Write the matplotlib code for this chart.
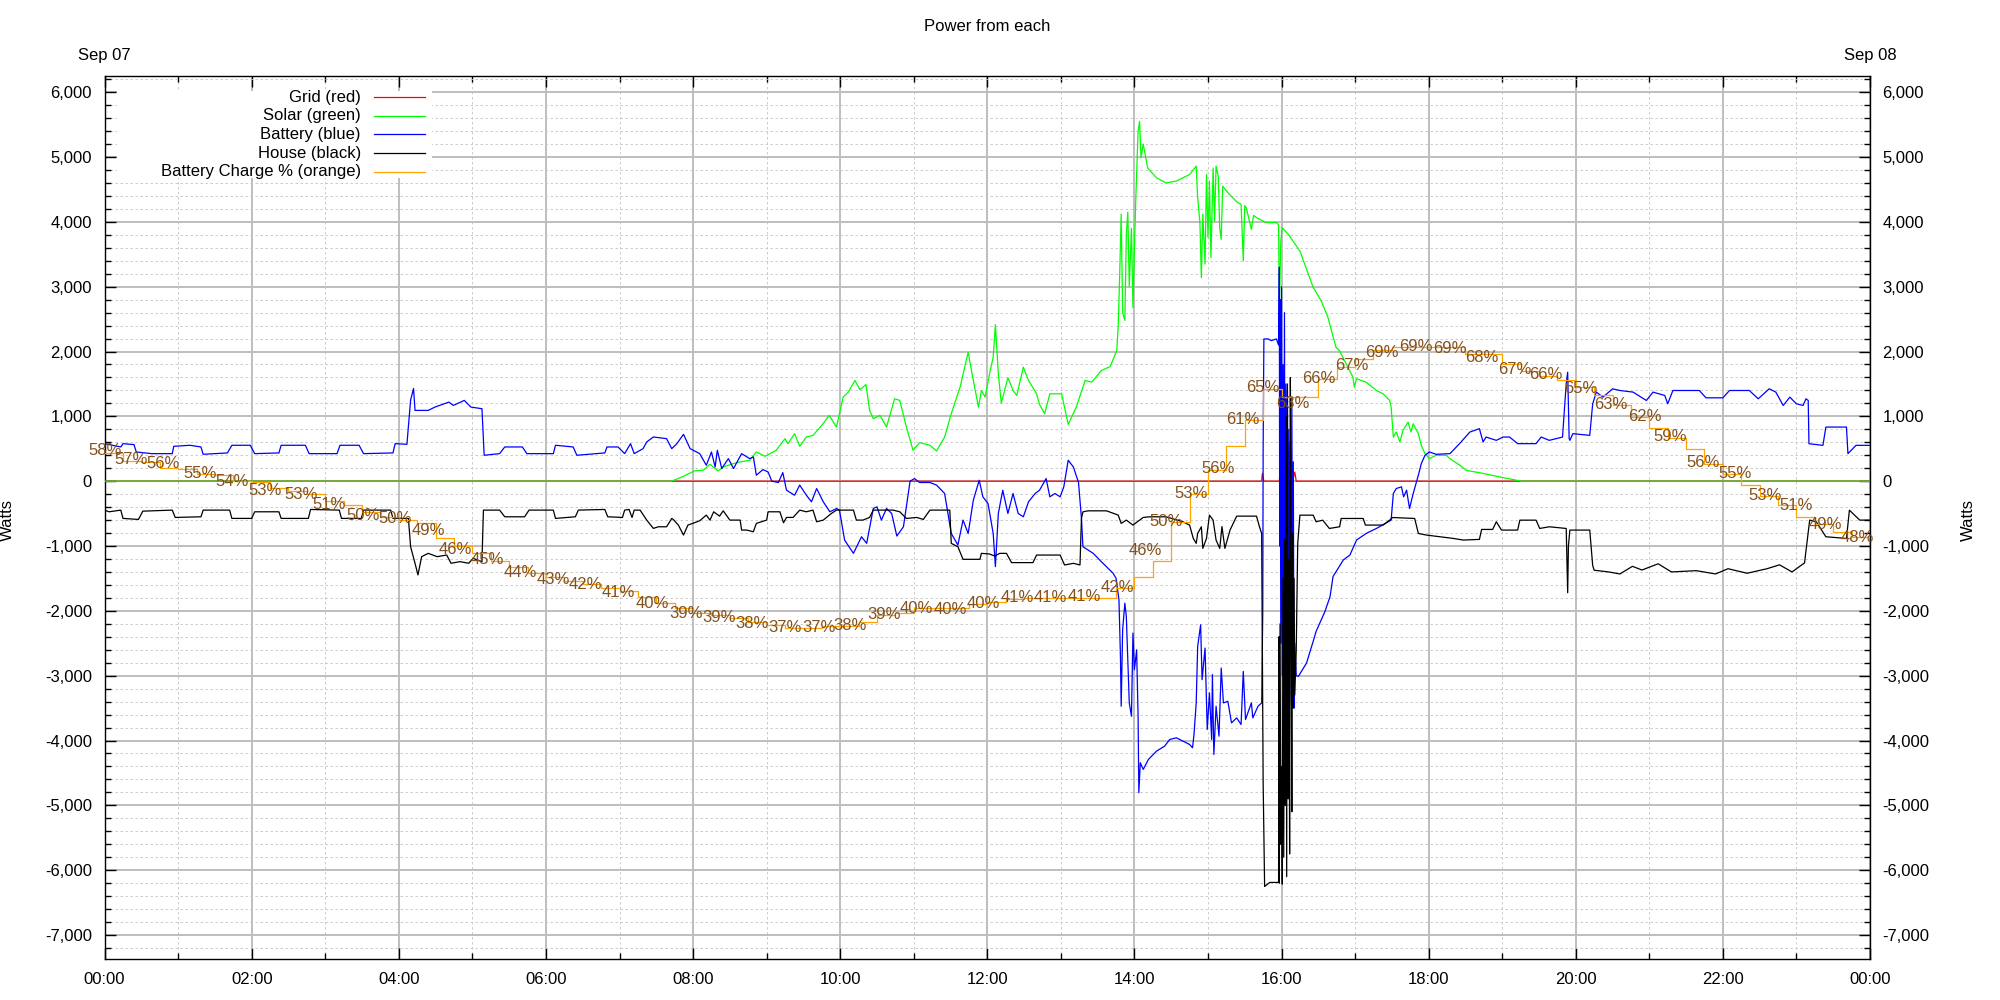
import matplotlib
matplotlib.use("agg")
import matplotlib.pyplot as plt
from matplotlib.patches import Rectangle
from matplotlib.ticker import MultipleLocator, FuncFormatter
import numpy as np

plt.rcParams['font.family'] = ['Liberation Sans', 'DejaVu Sans']
plt.rcParams['font.size'] = 12

# (hour of day, watts)
grid = [(0.0, 0), (15.73, 0), (15.74, 120), (15.76, 0), (15.97, 0), (15.98, 150), (16.0, 0),
        (16.03, 130), (16.05, 0), (16.08, 150), (16.1, 0), (16.13, 120), (16.15, 0),
        (16.18, 140), (16.2, 0), (24.0, 0)]

solar = [(0.0, 0), (7.37, 0), (7.71, 0), (7.87, 77), (8.02, 159), (8.14, 170), (8.23, 261),
         (8.34, 159), (8.41, 220), (8.55, 272), (8.64, 297), (8.77, 323), (8.86, 451),
         (8.98, 384), (9.13, 477), (9.25, 656), (9.29, 579), (9.38, 733), (9.45, 538),
         (9.54, 682), (9.63, 707), (9.75, 861), (9.85, 1015), (9.95, 836), (10.04, 1297),
         (10.11, 1374), (10.2, 1554), (10.27, 1410), (10.35, 1492), (10.4, 1092),
         (10.45, 964), (10.54, 1015), (10.63, 836), (10.74, 1272), (10.81, 1246),
         (10.9, 836), (10.99, 477), (11.08, 595), (11.22, 554), (11.31, 466), (11.42, 682),
         (11.51, 1041), (11.63, 1451), (11.74, 1990), (11.81, 1554), (11.88, 1143),
         (11.92, 1400), (11.97, 1297), (12.03, 1656), (12.08, 1912), (12.11, 2415),
         (12.15, 1656), (12.19, 1205), (12.28, 1595), (12.35, 1400), (12.4, 1323),
         (12.49, 1759), (12.56, 1554), (12.67, 1348), (12.71, 1184), (12.78, 1041),
         (12.85, 1348), (13.01, 1348), (13.1, 877), (13.21, 1143), (13.33, 1554),
         (13.42, 1528), (13.55, 1707), (13.67, 1769), (13.76, 2014), (13.78, 2400),
         (13.8, 3200), (13.82, 4120), (13.84, 2600), (13.87, 2480), (13.89, 3800),
         (13.91, 4150), (13.93, 3000), (13.96, 3900), (13.98, 2680), (14.0, 3600),
         (14.02, 4400), (14.05, 5400), (14.07, 5550), (14.09, 4990), (14.12, 5200),
         (14.18, 4830), (14.3, 4680), (14.43, 4600), (14.57, 4630), (14.75, 4730),
         (14.84, 4860), (14.86, 4370), (14.89, 4000), (14.91, 3140), (14.93, 4120),
         (14.96, 3350), (14.98, 4730), (15.0, 3760), (15.02, 4630), (15.04, 3450),
         (15.07, 4830), (15.09, 4010), (15.11, 4860), (15.14, 4700), (15.16, 3900),
         (15.18, 3730), (15.2, 4550), (15.27, 4450), (15.34, 4370), (15.4, 4300),
         (15.45, 4270), (15.48, 3400), (15.5, 4250), (15.52, 4220), (15.59, 3885),
         (15.62, 4100), (15.66, 4065), (15.79, 3990), (15.93, 3990), (15.96, 3950),
         (15.97, 2630), (15.99, 3700), (16.01, 3910), (16.09, 3810), (16.25, 3550),
         (16.43, 2990), (16.54, 2780), (16.63, 2530), (16.74, 2065), (16.79, 2010),
         (16.97, 1605), (16.99, 1450), (17.02, 1580), (17.15, 1527), (17.29, 1400),
         (17.38, 1348), (17.47, 1245), (17.49, 1143), (17.52, 681), (17.56, 758),
         (17.61, 604), (17.65, 784), (17.72, 912), (17.76, 760), (17.79, 886),
         (17.86, 733), (17.9, 553), (17.95, 425), (18.01, 348), (18.1, 399), (18.24, 399),
         (18.29, 348), (18.42, 250), (18.51, 168), (18.74, 120), (18.97, 65), (19.26, 0),
         (24.0, 0)]

battery = [(0.0, 579), (0.22, 528), (0.25, 579), (0.4, 564), (0.43, 451), (0.64, 425),
           (0.92, 425), (0.94, 538), (1.16, 554), (1.31, 528), (1.34, 415), (1.67, 436),
           (1.73, 554), (1.98, 554), (2.04, 425), (2.37, 436), (2.4, 554), (2.73, 554),
           (2.78, 425), (3.16, 425), (3.2, 554), (3.46, 554), (3.52, 425), (3.92, 436),
           (3.95, 579), (4.11, 569), (4.16, 1250), (4.2, 1430), (4.22, 1092), (4.4, 1092),
           (4.49, 1143), (4.68, 1220), (4.74, 1169), (4.89, 1246), (4.98, 1143),
           (5.13, 1118), (5.16, 400), (5.37, 425), (5.44, 528), (5.68, 528), (5.74, 425),
           (6.1, 425), (6.13, 554), (6.37, 528), (6.42, 400), (6.8, 436), (6.83, 528),
           (6.98, 528), (7.07, 425), (7.15, 579), (7.2, 425), (7.32, 502), (7.37, 605),
           (7.46, 682), (7.64, 656), (7.71, 502), (7.78, 579), (7.87, 723), (7.96, 502),
           (8.09, 425), (8.18, 246), (8.25, 451), (8.3, 220), (8.33, 477), (8.39, 195),
           (8.48, 348), (8.55, 195), (8.66, 425), (8.77, 348), (8.82, 374), (8.86, 92),
           (8.95, 179), (9.02, 143), (9.07, 0), (9.16, -20), (9.22, 133), (9.27, -139),
           (9.38, -216), (9.45, -60), (9.54, -216), (9.61, -318), (9.68, -113),
           (9.77, -318), (9.86, -472), (9.95, -421), (9.99, -446), (10.06, -908),
           (10.18, -1113), (10.29, -857), (10.36, -959), (10.45, -421), (10.5, -395),
           (10.56, -600), (10.63, -421), (10.7, -498), (10.77, -846), (10.86, -703),
           (10.95, 0), (11.01, 41), (11.08, -20), (11.22, -20), (11.31, -60),
           (11.42, -190), (11.51, -806), (11.6, -985), (11.67, -600), (11.74, -806),
           (11.81, -293), (11.89, 15), (11.94, -241), (12.01, -344), (12.08, -806),
           (12.11, -1318), (12.15, -498), (12.21, -139), (12.28, -498), (12.35, -190),
           (12.42, -498), (12.49, -549), (12.56, -318), (12.65, -190), (12.71, -139),
           (12.8, 41), (12.85, -241), (12.92, -190), (12.99, -241), (13.04, -87),
           (13.1, 323), (13.17, 220), (13.24, -20), (13.28, -575), (13.3, -1010),
           (13.44, -1113), (13.55, -1241), (13.71, -1420), (13.75, -1497), (13.79, -1830),
           (13.81, -2702), (13.82, -3471), (13.84, -2292), (13.87, -1882), (13.89, -2087),
           (13.93, -3420), (13.96, -3625), (13.98, -2343), (14.0, -2907), (14.03, -2600),
           (14.05, -3625), (14.06, -4805), (14.08, -4343), (14.12, -4446), (14.19, -4292),
           (14.3, -4164), (14.41, -4087), (14.48, -3984), (14.57, -3958), (14.66, -4010),
           (14.75, -4061), (14.79, -4112), (14.81, -3907), (14.84, -3420), (14.86, -2548),
           (14.9, -2215), (14.92, -3061), (14.96, -2574), (14.99, -3830), (15.02, -3266),
           (15.05, -3984), (15.06, -2984), (15.08, -4215), (15.11, -3471), (15.15, -3933),
           (15.18, -2882), (15.21, -3420), (15.27, -3394), (15.32, -3728), (15.39, -3651),
           (15.45, -3753), (15.48, -2933), (15.51, -3676), (15.59, -3420), (15.61, -3651),
           (15.68, -3471), (15.73, -3420), (15.745, -2000), (15.75, 500), (15.76, 2194),
           (15.82, 2194), (15.86, 2168), (15.93, 2194), (15.96, 2100), (15.97, 3300),
           (15.975, -1000), (15.98, 2800), (15.99, -2500), (16.0, 3000), (16.01, -3000),
           (16.02, 1800), (16.03, -2000), (16.04, 2600), (16.05, -3200), (16.06, 1500),
           (16.07, -2800), (16.08, 1400), (16.09, -3300), (16.1, 800), (16.11, -3400),
           (16.12, 600), (16.13, -2700), (16.14, 1300), (16.15, -3100), (16.16, 300),
           (16.17, -3500), (16.18, -2500), (16.2, -3000), (16.23, -3010), (16.34, -2804),
           (16.43, -2471), (16.47, -2317), (16.59, -2010), (16.66, -1779), (16.7, -1471),
           (16.77, -1343), (16.84, -1215), (16.93, -1138), (17.02, -908), (17.15, -806),
           (17.29, -729), (17.45, -626), (17.49, -600), (17.52, -190), (17.56, -113),
           (17.63, -87), (17.66, -241), (17.7, -139), (17.74, -421), (17.79, -190),
           (17.86, 92), (17.9, 271), (17.95, 399), (18.01, 451), (18.1, 415), (18.29, 425),
           (18.42, 579), (18.56, 758), (18.69, 810), (18.74, 605), (18.78, 681),
           (18.92, 630), (19.01, 681), (19.1, 681), (19.21, 579), (19.46, 579),
           (19.53, 681), (19.64, 630), (19.82, 681), (19.87, 1502), (19.89, 1681),
           (19.91, 656), (19.92, 630), (19.96, 733), (20.19, 707), (20.23, 1194),
           (20.28, 1374), (20.37, 1297), (20.5, 1425), (20.6, 1399), (20.78, 1374),
           (20.96, 1245), (21.05, 1374), (21.21, 1322), (21.25, 1194), (21.32, 1399),
           (21.68, 1399), (21.77, 1286), (22.0, 1286), (22.09, 1399), (22.36, 1399),
           (22.48, 1271), (22.63, 1425), (22.72, 1374), (22.82, 1168), (22.91, 1296),
           (23.0, 1194), (23.09, 1168), (23.13, 1271), (23.16, 1245), (23.17, 578),
           (23.36, 553), (23.4, 835), (23.68, 835), (23.7, 425), (23.81, 553), (24.0, 553)]

house = [(0.0, -446), (0.06, -472), (0.22, -446), (0.25, -574), (0.46, -590), (0.52, -462),
         (0.92, -446), (0.96, -559), (1.31, -549), (1.34, -446), (1.7, -446), (1.73, -574),
         (2.0, -574), (2.04, -472), (2.37, -472), (2.4, -574), (2.77, -574), (2.8, -436),
         (3.19, -446), (3.22, -574), (3.49, -574), (3.52, -446), (3.89, -446),
         (3.92, -574), (4.13, -574), (4.16, -1010), (4.22, -1266), (4.26, -1446),
         (4.31, -1164), (4.4, -1113), (4.52, -1164), (4.65, -1139), (4.71, -1266),
         (4.83, -1241), (4.95, -1266), (5.01, -1190), (5.13, -1241), (5.15, -446),
         (5.37, -446), (5.44, -549), (5.71, -549), (5.77, -446), (6.1, -446),
         (6.13, -574), (6.4, -549), (6.44, -446), (6.8, -436), (6.84, -549), (7.04, -559),
         (7.07, -446), (7.13, -436), (7.17, -559), (7.2, -446), (7.28, -446), (7.37, -600),
         (7.46, -728), (7.53, -703), (7.64, -703), (7.71, -575), (7.73, -590),
         (7.8, -677), (7.87, -831), (7.93, -677), (8.02, -641), (8.09, -610), (8.18, -523),
         (8.23, -600), (8.28, -472), (8.36, -539), (8.41, -457), (8.5, -600), (8.64, -600),
         (8.66, -754), (8.73, -754), (8.82, -780), (8.86, -651), (9.0, -600), (9.02, -472),
         (9.18, -472), (9.23, -641), (9.27, -559), (9.36, -559), (9.45, -446),
         (9.54, -472), (9.63, -446), (9.68, -626), (9.77, -600), (9.88, -498),
         (9.95, -446), (10.18, -446), (10.22, -600), (10.31, -600), (10.4, -559),
         (10.45, -446), (10.72, -446), (10.81, -472), (10.9, -575), (11.04, -559),
         (11.13, -590), (11.22, -446), (11.49, -446), (11.51, -959), (11.6, -1010),
         (11.67, -1205), (11.9, -1205), (11.92, -1113), (12.03, -1123), (12.1, -1154),
         (12.17, -1113), (12.26, -1113), (12.33, -1256), (12.62, -1256), (12.67, -1139),
         (12.99, -1139), (13.05, -1292), (13.17, -1267), (13.26, -1292), (13.28, -575),
         (13.3, -472), (13.37, -457), (13.62, -457), (13.78, -523), (13.82, -651),
         (13.89, -600), (13.98, -677), (14.07, -600), (14.12, -559), (14.21, -549),
         (14.43, -549), (14.66, -626), (14.75, -677), (14.8, -882), (14.84, -959),
         (14.86, -806), (14.91, -703), (14.93, -1036), (14.98, -882), (15.02, -524),
         (15.07, -601), (15.11, -908), (15.16, -1036), (15.19, -700), (15.23, -1036),
         (15.3, -754), (15.39, -539), (15.66, -539), (15.7, -703), (15.73, -806),
         (15.75, -4650), (15.77, -6251), (15.84, -6189), (15.96, -6189), (15.965, -2400),
         (15.97, -6200), (15.98, -2200), (15.99, -5600), (16.0, -4400), (16.01, -6215),
         (16.02, -1500), (16.03, -5800), (16.04, -900), (16.05, -5000), (16.06, 1000),
         (16.07, -6100), (16.08, 1500), (16.09, -4900), (16.1, -1200), (16.11, -5750),
         (16.12, 1600), (16.13, -2200), (16.14, -5100), (16.15, -800), (16.16, -3500),
         (16.17, -1500), (16.18, -3300), (16.2, -2600), (16.22, -960), (16.25, -524),
         (16.43, -524), (16.47, -626), (16.56, -601), (16.65, -729), (16.79, -703),
         (16.81, -575), (17.11, -575), (17.14, -677), (17.38, -677), (17.47, -601),
         (17.51, -560), (17.81, -575), (17.86, -806), (17.97, -831), (18.15, -857),
         (18.33, -882), (18.47, -908), (18.69, -898), (18.72, -744), (18.87, -744),
         (18.92, -626), (18.99, -754), (19.21, -754), (19.24, -601), (19.46, -601),
         (19.51, -729), (19.64, -703), (19.87, -729), (19.89, -1720), (19.9, -1000),
         (19.92, -754), (20.19, -754), (20.23, -1300), (20.25, -1373), (20.45, -1400),
         (20.6, -1431), (20.77, -1313), (20.9, -1370), (21.12, -1274), (21.3, -1400),
         (21.64, -1380), (21.9, -1431), (22.07, -1350), (22.33, -1420), (22.6, -1350),
         (22.77, -1290), (22.94, -1400), (23.11, -1260), (23.18, -600), (23.27, -626),
         (23.4, -857), (23.68, -883), (23.72, -447), (23.86, -600), (24.0, -600)]

# battery charge line, one value per 15 minutes (plotted on the watts scale)
charge_watts = [430, 310, 300, 200, 195, 110, 90, 10, -20, -110, -150, -205, -300, -360,
                -470, -560, -600, -650, -870, -1000, -1110, -1230, -1330, -1420, -1480,
                -1540, -1580, -1640, -1700, -1790, -1880, -1960, -2030, -2060, -2110,
                -2170, -2220, -2260, -2260, -2240, -2230, -2170, -2070, -2030, -1960,
                -1960, -1950, -1900, -1860, -1810, -1800, -1800, -1800, -1805, -1805,
                -1651, -1471, -1225, -626, -190, 169, 543, 938, 1425, 1297, 1297, 1579,
                1758, 1886, 2025, 2066, 2066, 2066, 2066, 1963, 1963, 1810, 1707, 1630,
                1563, 1450, 1322, 1168, 989, 825, 671, 502, 271, 107, -62, -226, -370,
                -550, -662, -780, -867, -867]

label_hours = [0.0, 0.36, 0.8, 1.3, 1.73, 2.18, 2.67, 3.05, 3.52, 3.95, 4.4, 4.77, 5.2,
               5.65, 6.1, 6.54, 6.99, 7.44, 7.9, 8.36, 8.8, 9.25, 9.71, 10.14, 10.6,
               11.04, 11.5, 11.95, 12.41, 12.86, 13.32, 13.77, 14.15, 14.43, 14.77, 15.14,
               15.47, 15.74, 16.15, 16.51, 16.96, 17.37, 17.82, 18.29, 18.72, 19.17,
               19.59, 20.07, 20.48, 20.94, 21.28, 21.73, 22.17, 22.58, 22.99, 23.4, 23.83]
label_watts = [466, 333, 271, 117, -11, -149, -205, -354, -523, -574, -754, -1051, -1215,
               -1410, -1523, -1600, -1718, -1881, -2045, -2097, -2200, -2251, -2251,
               -2230, -2061, -1958, -1974, -1892, -1789, -1789, -1779, -1635, -1072,
               -626, -190, 194, 953, 1440, 1194, 1589, 1784, 1989, 2081, 2040, 1902,
               1722, 1646, 1425, 1179, 1004, 691, 281, 117, -216, -370, -662, -867]
label_pct = [58, 57, 56, 55, 54, 53, 53, 51, 50, 50, 49, 46, 45, 44, 43, 42, 41, 40, 39,
             39, 38, 37, 37, 38, 39, 40, 40, 40, 41, 41, 41, 42, 46, 50, 53, 56, 61, 65,
             63, 66, 67, 69, 69, 69, 68, 67, 66, 65, 63, 62, 59, 56, 55, 53, 51, 49, 48]

legend_names = ["Grid (red)", "Solar (green)", "Battery (blue)", "House (black)",
                "Battery Charge % (orange)"]
legend_colors = ["#ff0000", "#00ff00", "#0000ff", "#000000", "#ffa500"]

fig = plt.figure(figsize=(20, 10), dpi=100)
ax = fig.add_axes([0.0523, 0.041, 0.8827, 0.883])

for series, col in zip([grid, solar, battery, house], legend_colors[:4]):
    h, w = np.array(series).T
    ax.plot(h, w, color=col, lw=0.9, zorder=3)

charge_hours = np.arange(len(charge_watts)) * 0.25
ax.step(charge_hours, charge_watts, where='post', color='#ffa500', lw=0.9, zorder=3)
for h, w, p in zip(label_hours, label_watts, label_pct):
    ax.text(h, w, f"{p}%", ha='center', va='center', color='#84501c', zorder=6)

ax.set_xlim(0, 24)
ax.set_ylim(-7370, 6250)
ax.xaxis.set_major_locator(MultipleLocator(2))
ax.xaxis.set_minor_locator(MultipleLocator(1))
ax.yaxis.set_major_locator(MultipleLocator(1000))
ax.yaxis.set_minor_locator(MultipleLocator(200))
ax.xaxis.set_major_formatter(FuncFormatter(lambda v, _: f"{int(round(v)) % 24:02d}:00"))
ax.yaxis.set_major_formatter(FuncFormatter(lambda v, _: f"{int(round(v)):,}"))

ax.tick_params(which='both', direction='in', top=True, right=True, labelright=True,
               width=1.0)
ax.tick_params(which='major', length=8, pad=9)
ax.tick_params(which='minor', length=4)
ax.grid(which='major', color='#bebebe', lw=1.4, ls='-')
ax.grid(which='minor', color='#c4c4c4', lw=0.6, ls=(0, (3, 3)))
ax.set_axisbelow(True)
for sp in ax.spines.values():
    sp.set_linewidth(1.0)

# key box, top left like gnuplot's
ax.add_patch(Rectangle((0.007, 0.8845), 0.1785, 0.099, transform=ax.transAxes,
                       facecolor='white', edgecolor='none', zorder=1))
for i, (name, col) in enumerate(zip(legend_names, legend_colors)):
    y = 0.9762 - i * 0.0212
    ax.text(0.1452, y, name, transform=ax.transAxes, ha='right', va='center', zorder=5)
    ax.plot([0.1526, 0.1815], [y, y], transform=ax.transAxes, color=col, lw=0.9, zorder=5)

ax.text(0.5, 1.0555, "Power from each", transform=ax.transAxes, ha='center', va='center')
ax.text(0, 1.0227, "Sep 07", transform=ax.transAxes, ha='center', va='center')
ax.text(1, 1.0227, "Sep 08", transform=ax.transAxes, ha='center', va='center')
ax.set_ylabel("Watts")
ax.yaxis.set_label_coords(-0.051, 0.497)
ax.text(1.0555, 0.497, "Watts", transform=ax.transAxes, rotation=90,
        ha='center', va='center')

fig.savefig("out.png", dpi=100)
